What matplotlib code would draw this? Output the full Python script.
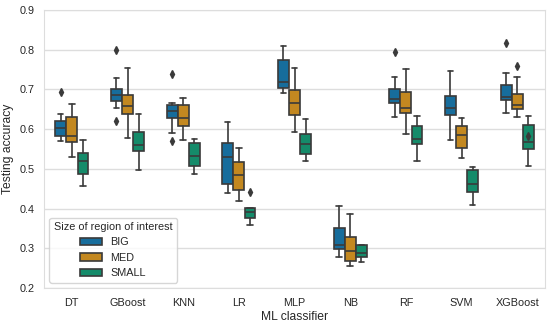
import matplotlib
matplotlib.use("Agg")
import matplotlib.pyplot as plt
from matplotlib.patches import Patch
import seaborn as sns

# classifiers and region-size groups
classifiers = ['DT', 'GBoost', 'KNN', 'LR', 'MLP', 'NB', 'RF', 'SVM', 'XGBoost']
sizes = ['BIG', 'MED', 'SMALL']

# box statistics (one value per classifier)
whislo = {
    'BIG':   [0.569, 0.653, 0.591, 0.440, 0.692, 0.277, 0.630, 0.573, 0.642],
    'MED':   [0.531, 0.579, 0.573, 0.418, 0.594, 0.256, 0.587, 0.528, 0.630],
    'SMALL': [0.456, 0.496, 0.487, 0.359, 0.521, 0.266, 0.521, 0.408, 0.508],
}
q1 = {
    'BIG':   [0.583, 0.671, 0.627, 0.463, 0.703, 0.299, 0.667, 0.635, 0.673],
    'MED':   [0.567, 0.639, 0.607, 0.446, 0.636, 0.268, 0.642, 0.553, 0.650],
    'SMALL': [0.486, 0.545, 0.507, 0.376, 0.538, 0.279, 0.562, 0.442, 0.550],
}
med = {
    'BIG':   [0.604, 0.687, 0.645, 0.529, 0.719, 0.308, 0.677, 0.654, 0.682],
    'MED':   [0.583, 0.658, 0.627, 0.484, 0.665, 0.294, 0.654, 0.586, 0.661],
    'SMALL': [0.521, 0.560, 0.533, 0.391, 0.563, 0.287, 0.575, 0.463, 0.567],
}
q3 = {
    'BIG':   [0.621, 0.700, 0.661, 0.565, 0.775, 0.352, 0.701, 0.684, 0.711],
    'MED':   [0.631, 0.686, 0.662, 0.518, 0.698, 0.328, 0.693, 0.607, 0.688],
    'SMALL': [0.540, 0.594, 0.565, 0.401, 0.587, 0.308, 0.608, 0.496, 0.610],
}
whishi = {
    'BIG':   [0.639, 0.728, 0.665, 0.618, 0.809, 0.407, 0.732, 0.747, 0.742],
    'MED':   [0.664, 0.754, 0.678, 0.552, 0.754, 0.386, 0.752, 0.629, 0.732],
    'SMALL': [0.573, 0.639, 0.575, 0.402, 0.625, 0.309, 0.632, 0.506, 0.632],
}
fliers = {
    'BIG':   [[0.693], [0.800, 0.620], [0.740, 0.571], [], [], [], [0.794], [], [0.8175]],
    'MED':   [[], [], [], [], [], [], [], [], [0.759]],
    'SMALL': [[], [], [], [0.443], [], [], [], [], [0.5825]],
}

sns.set_style('whitegrid')
plt.rcParams['font.family'] = ['Liberation Sans', 'DejaVu Sans']

colors = [sns.desaturate(c, 0.75) for c in sns.color_palette('colorblind', 3)]
line_gray = '#3a3a3a'

fig = plt.figure(figsize=(5.5, 3.24), dpi=100)
ax = fig.add_axes([0.08, 0.111, 0.911, 0.858])

slot = 0.2
for j, s in enumerate(sizes):
    stats = []
    for i in range(len(classifiers)):
        stats.append(dict(med=med[s][i], q1=q1[s][i], q3=q3[s][i],
                          whislo=whislo[s][i], whishi=whishi[s][i],
                          fliers=fliers[s][i]))
    pos = [i + (j - 1) * slot for i in range(len(classifiers))]
    ax.bxp(stats, positions=pos, widths=slot * 0.98, patch_artist=True,
           manage_ticks=False,
           boxprops=dict(facecolor=colors[j], edgecolor=line_gray, linewidth=1.2),
           medianprops=dict(color=line_gray, linewidth=1.2),
           whiskerprops=dict(color=line_gray, linewidth=1.2),
           capprops=dict(color=line_gray, linewidth=1.2),
           flierprops=dict(marker='d', markersize=4, markerfacecolor=line_gray,
                           markeredgecolor=line_gray))

ax.set_xlim(-0.5, len(classifiers) - 0.5)
ax.set_ylim(0.2, 0.9)
ax.set_xticks(range(len(classifiers)))
ax.set_xticklabels(classifiers)
ax.set_yticks([0.2, 0.3, 0.4, 0.5, 0.6, 0.7, 0.8, 0.9])
ax.set_yticklabels([f'{v:.1f}' for v in ax.get_yticks()])
ax.tick_params(labelsize=7.8, colors='#262626')
ax.xaxis.grid(False)
ax.yaxis.grid(True, color='#dddddd', linewidth=1)
ax.set_axisbelow(True)
for sp in ax.spines.values():
    sp.set_color('#dddddd')

ax.set_xlabel('ML classifier', fontsize=8.7, color='#262626', labelpad=2)
ax.set_ylabel('Testing accuracy', fontsize=8.7, color='#262626')

handles = [Patch(facecolor=colors[j], edgecolor=line_gray, linewidth=1.2, label=s)
           for j, s in enumerate(sizes)]
leg = ax.legend(handles=handles, title='Size of region of interest', loc='lower left',
                fontsize=7.8, title_fontsize=7.8, frameon=True)
leg.get_frame().set_edgecolor('#cccccc')

fig.savefig('out.png', dpi=100)
